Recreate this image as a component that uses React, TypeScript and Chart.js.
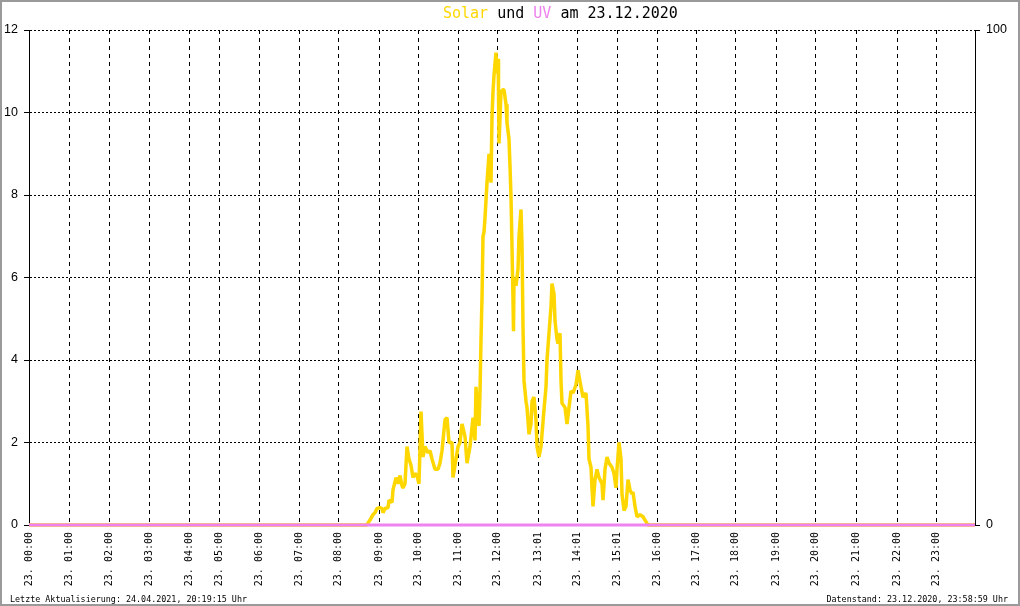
import { useEffect, useRef } from "react";
import { Chart, registerables } from "chart.js";

Chart.register(...registerables);

// Hour tick labels and their positions on the sample axis (sample slots, 0..946)
const hourLabels = [
  "23. 00:00", "23. 01:00", "23. 02:00", "23. 03:00", "23. 04:00", "23. 05:00",
  "23. 06:00", "23. 07:00", "23. 08:00", "23. 09:00", "23. 10:00", "23. 11:00",
  "23. 12:00", "23. 13:01", "23. 14:01", "23. 15:01", "23. 16:00", "23. 17:00",
  "23. 18:00", "23. 19:00", "23. 20:00", "23. 21:00", "23. 22:00", "23. 23:00",
];
const hourPositions = [
  0, 40, 80, 120, 160, 190, 230, 270, 309, 350, 389, 429,
  468, 509, 548, 588, 628, 667, 706, 747, 786, 827, 868, 907,
];
const xMax = 946;

// Solar series (left axis)
const solarX = [
  0, 338, 339, 341, 344, 346, 348, 351, 353, 354, 356, 359, 360, 363, 364, 367, 369, 371,
  373, 374, 376, 378, 380, 382, 384, 386, 388, 390, 392, 394, 396, 399, 401, 403, 406, 409,
  411, 413, 416, 418, 420, 423, 424, 427, 429, 431, 433, 436, 438, 441, 444, 446, 447, 448,
  450, 451, 452, 453, 454, 455, 456, 458, 460, 462, 463, 464, 465, 467, 468, 469, 469.5, 470,
  472, 474, 475, 477, 478, 480, 481, 482, 483, 484, 484.5, 485, 487, 489, 490, 492, 493, 494,
  495, 497, 498, 500, 502, 503, 505, 507, 508, 510, 512, 513, 515, 517, 518, 520, 522, 523,
  525, 526, 528, 529, 531, 532, 533, 536, 538, 540, 542, 544, 547, 549, 552, 554, 557, 559,
  560, 562, 563, 564, 566, 568, 570, 573, 574, 576, 578, 580, 583, 585, 587, 588, 590, 592,
  593, 595, 597, 599, 601, 603, 604, 606, 608, 611, 614, 616, 619, 946,
];
const solarY = [
  0, 0, 0.05, 0.12, 0.25, 0.3, 0.4, 0.42, 0.4, 0.3, 0.4, 0.42, 0.6, 0.55, 0.85, 1.15, 1.0, 1.2,
  0.95, 0.9, 1.0, 1.9, 1.6, 1.45, 1.15, 1.25, 1.2, 1.0, 2.75, 1.65, 1.9, 1.75, 1.8, 1.6, 1.35, 1.35,
  1.5, 1.8, 2.55, 2.6, 2.0, 2.0, 1.15, 1.6, 1.9, 2.0, 2.45, 2.15, 1.5, 1.9, 2.6, 2.05, 3.35, 3.0,
  2.4, 3.2, 4.5, 5.5, 7.0, 7.1, 7.45, 8.3, 9.0, 8.3, 9.9, 10.5, 10.9, 11.45, 10.95, 11.3, 10.55, 9.25,
  10.5, 10.55, 10.55, 10.2, 9.75, 9.35, 8.7, 7.95, 6.75, 5.45, 4.7, 6.0, 5.8, 6.2, 7.0, 7.65, 6.8, 4.8,
  3.5, 3.0, 2.85, 2.2, 2.45, 3.0, 3.1, 2.55, 1.9, 1.65, 1.9, 2.2, 2.8, 3.35, 4.0, 4.65, 5.3, 5.85,
  5.6, 4.95, 4.5, 4.4, 4.65, 3.5, 2.95, 2.85, 2.45, 2.85, 3.25, 3.2, 3.4, 3.75, 3.35, 3.1, 3.2, 2.4,
  1.6, 1.4, 0.9, 0.45, 1.1, 1.35, 1.15, 1.0, 0.6, 1.35, 1.65, 1.5, 1.4, 1.25, 0.9, 1.35, 2.0, 1.6,
  0.75, 0.35, 0.45, 1.1, 0.85, 0.75, 0.8, 0.45, 0.2, 0.25, 0.2, 0.12, 0, 0,
];

// UV series (right axis)
const uvX = [0, 946];
const uvY = [0, 0];

const leftTicks = [0, 2, 4, 6, 8, 10, 12];
const rightTicks = [0, 100];

const titleParts = [
  { text: "Solar", color: "#FFD700" },
  { text: " und ", color: "#000000" },
  { text: "UV", color: "#EE82EE" },
  { text: " am 23.12.2020", color: "#000000" },
];
const footerLeft = "Letzte Aktualisierung: 24.04.2021, 20:19:15 Uhr";
const footerRight = "Datenstand: 23.12.2020, 23:58:59 Uhr";

const MONO = '"DejaVu Sans Mono", "Liberation Mono", monospace';

const decorPlugin = {
  id: "decor",
  beforeDraw(chart: any) {
    const ctx = chart.ctx;
    ctx.save();
    ctx.fillStyle = "#ffffff";
    ctx.fillRect(0, 0, chart.width, chart.height);
    ctx.restore();
  },
  afterDraw(chart: any) {
    const ctx = chart.ctx;
    ctx.save();
    // title
    ctx.font = `15px ${MONO}`;
    ctx.textBaseline = "alphabetic";
    ctx.textAlign = "left";
    let x = 443;
    for (const p of titleParts) {
      ctx.fillStyle = p.color;
      ctx.fillText(p.text, x, 18);
      x += ctx.measureText(p.text).width;
    }
    // footers
    ctx.font = `8.4px ${MONO}`;
    ctx.fillStyle = "#000000";
    ctx.textAlign = "left";
    ctx.fillText(footerLeft, 10, 602);
    ctx.textAlign = "right";
    ctx.fillText(footerRight, 1008, 602);
    // frame
    ctx.strokeStyle = "#9a9a9a";
    ctx.lineWidth = 2;
    ctx.strokeRect(1, 1, chart.width - 2, chart.height - 2);
    ctx.restore();
  },
};

export default function App() {
  const ref = useRef<HTMLCanvasElement | null>(null);

  useEffect(() => {
    document.body.style.margin = "0";
    const canvas = ref.current;
    if (!canvas) return;
    const chart = new Chart(canvas, {
      type: "line",
      data: {
        datasets: [
          {
            label: "UV",
            data: uvX.map((v, i) => ({ x: v, y: uvY[i] })),
            yAxisID: "y1",
            borderColor: "#EE82EE",
            borderWidth: 3,
            pointRadius: 0,
            tension: 0,
            clip: 6,
          },
          {
            label: "Solar",
            data: solarX.map((v, i) => ({ x: v, y: solarY[i] })),
            yAxisID: "y",
            borderColor: "#FFD700",
            borderWidth: 3.5,
            borderJoinStyle: "bevel",
            pointRadius: 0,
            tension: 0,
            clip: 6,
          },
        ],
      },
      options: {
        responsive: false,
        animation: false,
        devicePixelRatio: 1,
        layout: { padding: { top: 30, left: 0, right: 0, bottom: 0 } },
        plugins: {
          legend: { display: false },
          tooltip: { enabled: false },
          title: { display: false },
        },
        scales: {
          x: {
            type: "linear",
            min: 0,
            max: xMax,
            afterBuildTicks: (scale: any) => {
              scale.ticks = hourPositions.map((v) => ({ value: v }));
            },
            afterFit: (scale: any) => {
              scale.height = 81;
            },
            ticks: {
              autoSkip: false,
              minRotation: 90,
              maxRotation: 90,
              padding: 7,
              color: "#000000",
              font: { family: MONO, size: 10 },
              callback: (value: any) => {
                const i = hourPositions.indexOf(Number(value));
                return i >= 0 ? hourLabels[i] : "";
              },
            },
            grid: {
              color: "#000000",
              lineWidth: 1,
              drawTicks: false,
            },
            border: { display: false, dash: [4, 4] },
          },
          y: {
            type: "linear",
            position: "left",
            min: 0,
            max: 12,
            afterBuildTicks: (scale: any) => {
              scale.ticks = leftTicks.map((v) => ({ value: v }));
            },
            afterFit: (scale: any) => {
              scale.width = 29;
            },
            ticks: {
              padding: 6,
              color: "#000000",
              font: { family: '"Liberation Sans", Arial, sans-serif', size: 12.5 },
            },
            grid: {
              color: "#000000",
              lineWidth: 1,
              tickLength: 5,
              tickColor: "#000000",
              tickBorderDash: [],
            },
            border: { display: true, color: "#000000", width: 1, dash: [2, 2] },
          },
          y1: {
            type: "linear",
            position: "right",
            min: 0,
            max: 100,
            afterBuildTicks: (scale: any) => {
              scale.ticks = rightTicks.map((v) => ({ value: v }));
            },
            afterFit: (scale: any) => {
              scale.width = 45;
            },
            ticks: {
              padding: 6,
              color: "#000000",
              font: { family: '"Liberation Sans", Arial, sans-serif', size: 12.5 },
            },
            grid: {
              drawOnChartArea: false,
              color: "#000000",
              tickLength: 5,
              tickColor: "#000000",
            },
            border: { display: true, color: "#000000", width: 1 },
          },
        },
      },
      plugins: [decorPlugin],
    } as any);
    return () => chart.destroy();
  }, []);

  return (
    <div style={{ width: 1020, height: 606 }}>
      <canvas ref={ref} width={1020} height={606} style={{ display: "block" }} />
    </div>
  );
}
